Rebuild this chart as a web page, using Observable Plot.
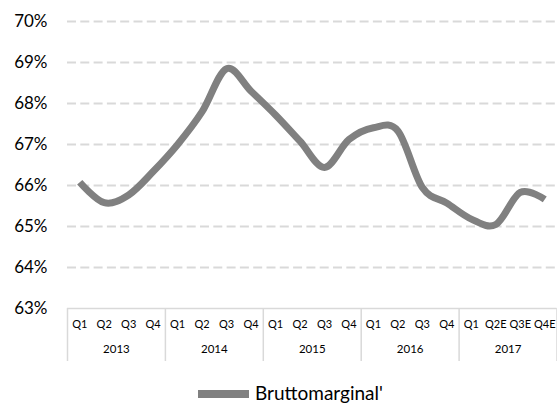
<!DOCTYPE html>
<html>
<head>
<meta charset="utf-8">
<script src="https://cdn.jsdelivr.net/npm/d3@7"></script>
<script src="https://cdn.jsdelivr.net/npm/@observablehq/plot@0.6"></script>
<style>
  html, body { margin: 0; padding: 0; background: #fff; }
  body { width: 557px; height: 403px; overflow: hidden; font-family: Lato, "Open Sans", sans-serif; }
  #legend { position: relative; height: 41px; }
  #legend .sw { position: absolute; left: 198px; top: 28px; width: 51px; height: 8px; background: #808080; }
  #legend .lb { position: absolute; left: 255px; top: 19px; font-size: 19px; color: #000; line-height: 24px; white-space: nowrap; }
</style>
</head>
<body>
<div id="chart"></div>
<div id="legend"><div class="sw"></div><div class="lb">Bruttomarginal'</div></div>
<script>
const years = ["2013", "2014", "2015", "2016", "2017"];
const quarterLabels = [
  "Q1","Q2","Q3","Q4",
  "Q1","Q2","Q3","Q4",
  "Q1","Q2","Q3","Q4",
  "Q1","Q2","Q3","Q4",
  "Q1","Q2E","Q3E","Q4E"
];
const bruttomarginal = [
  0.6608, 0.6558, 0.6577, 0.6634,
  0.6700, 0.6780, 0.6885, 0.6830,
  0.6772, 0.6708, 0.6644, 0.6712,
  0.6741, 0.6733, 0.6595, 0.6557,
  0.6518, 0.6505, 0.6583, 0.6566
];
const yTicks = [0.63, 0.64, 0.65, 0.66, 0.67, 0.68, 0.69, 0.70];

const data = bruttomarginal.map((v, i) => ({i, v}));
const quarterIdx = quarterLabels.map((q, i) => i);
const yearBounds = [-0.5].concat(years.map((y, k) => k * 4 + 3.5));
const yearMids = years.map((y, k) => ({year: y, x: k * 4 + 1.5}));

const chart = Plot.plot({
  width: 557,
  height: 362,
  marginTop: 21,
  marginBottom: 54,
  marginLeft: 67,
  marginRight: 0.5,
  style: {fontFamily: "Lato, 'Open Sans', sans-serif", color: "#000", background: "#fff"},
  x: {domain: [-0.5, 19.5], axis: null},
  y: {domain: [0.63, 0.70], axis: null},
  marks: [
    Plot.ruleY(yTicks.filter(t => t > 0.63), {stroke: "#d9d9d9", strokeWidth: 2, strokeDasharray: "9,4.3"}),
    Plot.ruleY([0.63], {stroke: "#d9d9d9", strokeWidth: 1.5}),
    Plot.axisX({ticks: yearBounds, tickSize: 53, tickFormat: () => "", label: null, stroke: "#d9d9d9", strokeWidth: 1.5}),
    Plot.axisX({ticks: quarterIdx, tickSize: 0, tickPadding: 12, tickFormat: i => quarterLabels[i], label: null, fontSize: 11}),
    Plot.text(yearMids, {x: "x", text: "year", frameAnchor: "bottom", dy: 44, fontSize: 11.5}),
    Plot.axisY({ticks: yTicks, tickSize: 0, tickPadding: 20, tickFormat: d3.format(".0%"), label: null, fontSize: 17}),
    Plot.line(data, {x: "i", y: "v", stroke: "#808080", strokeWidth: 7, curve: d3.curveCardinal.tension(0), strokeLinecap: "butt"})
  ]
});
document.getElementById("chart").appendChild(chart);
</script>
</body>
</html>
